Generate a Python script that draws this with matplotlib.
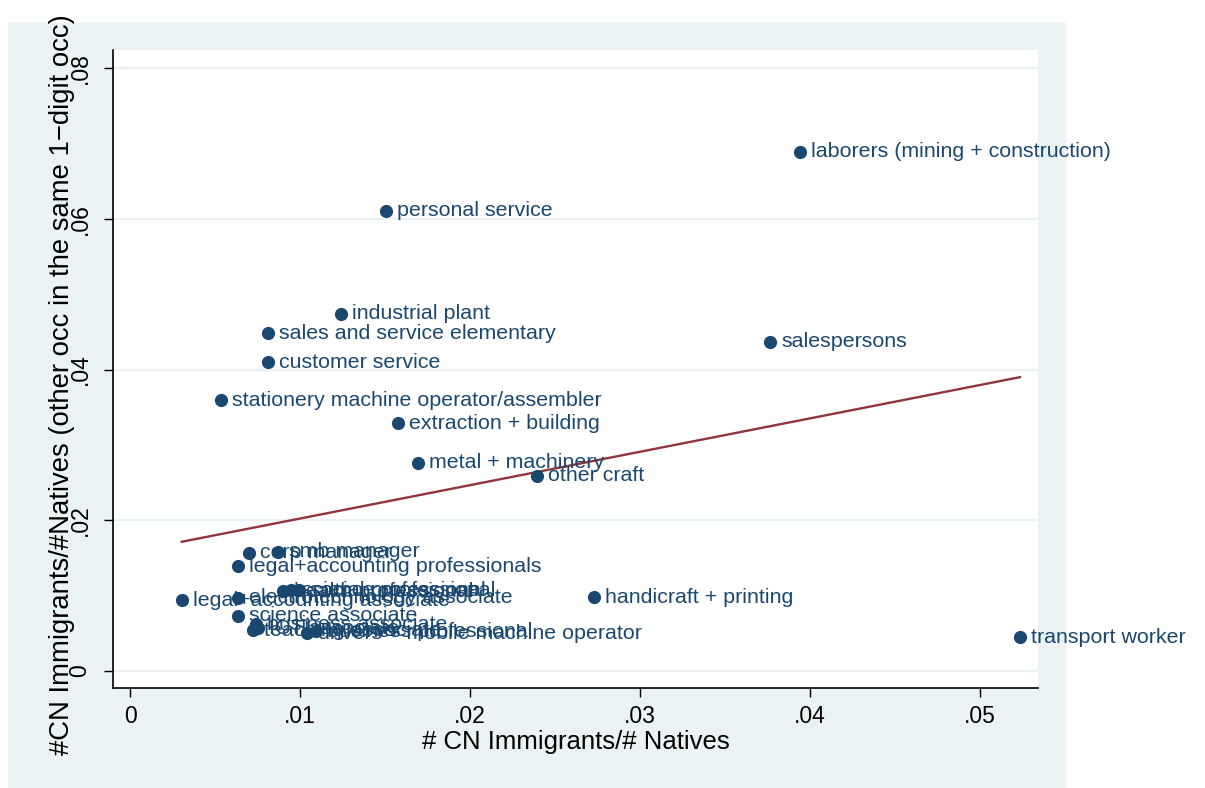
import matplotlib
matplotlib.use("Agg")
import matplotlib.pyplot as plt
from matplotlib.patches import Rectangle

plt.rcParams['font.family'] = ['Liberation Sans', 'DejaVu Sans']

# occupations (labels, some are hidden by overlap)
occ = ["laborers (mining + construction)", "personal service", "industrial plant",
       "sales and service elementary", "customer service", "salespersons",
       "stationery machine operator/assembler", "extraction + building",
       "metal + machinery", "other craft", "corp manager", "smb manager",
       "legal+accounting professionals", "health professional", "science professional",
       "social professional", "legal+accounting associate", "electrotechnology associate",
       "science associate", "handicraft + printing", "business associate",
       "teaching associate", "ICT associate", "drivers + mobile machine operator",
       "business professional", "transport worker"]
x_ratio = [0.0394, 0.01506, 0.01241, 0.00812, 0.00812, 0.03765, 0.00535, 0.01576,
           0.01694, 0.02394, 0.0070, 0.0087, 0.00634, 0.0090, 0.00947, 0.00994,
           0.00304, 0.00634, 0.00634, 0.0273, 0.00741, 0.00724, 0.00753, 0.0104,
           0.01094, 0.05235]
y_ratio = [0.0689, 0.0611, 0.0474, 0.0448, 0.0410, 0.0437, 0.0359, 0.0329,
           0.0276, 0.0259, 0.0157, 0.0158, 0.0139, 0.0106, 0.0107, 0.0107,
           0.0094, 0.0097, 0.0073, 0.0098, 0.0062, 0.0054, 0.0057, 0.0050,
           0.0053, 0.0045]

# fitted line
fit_slope = 0.443
fit_icept = 0.0158

xticks = [0, 0.01, 0.02, 0.03, 0.04, 0.05]
xtick_labels = ["0", ".01", ".02", ".03", ".04", ".05"]
yticks = [0, 0.02, 0.04, 0.06, 0.08]
ytick_labels = ["0", ".02", ".04", ".06", ".08"]

navy = "#1a476f"
maroon = "#90353b"
panel = "#eaf2f3"

fig = plt.figure(figsize=(12.05, 7.88), dpi=100)
fig.add_artist(Rectangle((8 / 1205, 0), 1057 / 1205, 765 / 788,
                         transform=fig.transFigure, color=panel, zorder=-5))
ax = fig.add_axes([113 / 1205, 1 - 688 / 788, 925 / 1205, 638 / 788])
ax.set_facecolor("white")

for yt in yticks:
    ax.axhline(yt, color=panel, lw=1.6, zorder=1)

ax.scatter(x_ratio, y_ratio, s=90, color=navy, zorder=3, linewidths=0)
for name, xv, yv in zip(occ, x_ratio, y_ratio):
    ax.annotate(name, (xv, yv), xytext=(8, 0), textcoords="offset points",
                va="center", ha="left", fontsize=15.4, color=navy, zorder=4,
                annotation_clip=False)

x0, x1 = min(x_ratio), max(x_ratio)
ax.plot([x0, x1], [fit_icept + fit_slope * x0, fit_icept + fit_slope * x1],
        color=maroon, lw=1.7, zorder=2)

ax.set_xlim(-0.001, 0.05341)
ax.set_ylim(-0.002255, 0.0824)
ax.set_xticks(xticks)
ax.set_xticklabels(xtick_labels)
ax.set_yticks(yticks)
ax.set_yticklabels(ytick_labels, rotation=90, va="center")
ax.tick_params(axis="both", direction="out", length=6.5, width=1, labelsize=16.5)
ax.tick_params(axis="x", pad=6)
ax.tick_params(axis="y", pad=9)

for s in ["top", "right"]:
    ax.spines[s].set_visible(False)
for s in ["left", "bottom"]:
    ax.spines[s].set_linewidth(1.2)

ax.set_xlabel("# CN Immigrants/# Natives", fontsize=18.5)
ax.set_ylabel("#CN Immigrants/#Natives (other occ in the same 1\u2212digit occ)",
              fontsize=19.8)
ax.xaxis.set_label_coords(0.5, -0.085, transform=ax.transAxes)
ax.xaxis.label.set_va("center")
ax.yaxis.set_label_coords(-0.055, 0.475, transform=ax.transAxes)
ax.yaxis.label.set_va("center")

fig.savefig("out.png", dpi=100)
